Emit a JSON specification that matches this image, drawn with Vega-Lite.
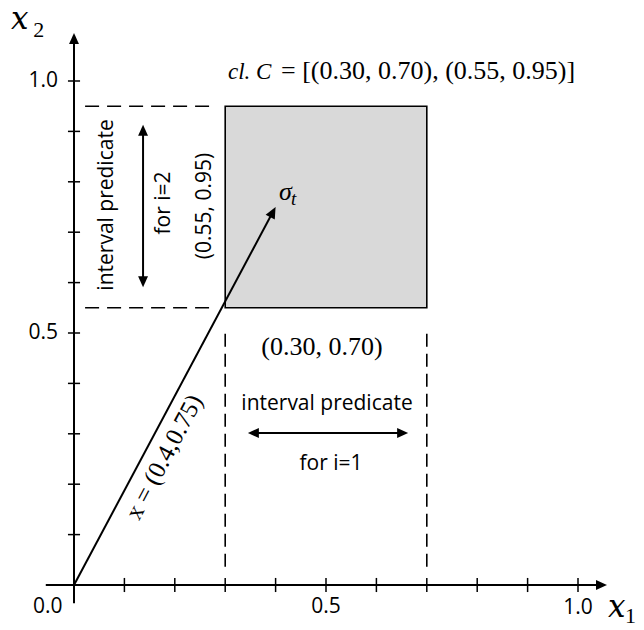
{
  "$schema": "https://vega.github.io/schema/vega-lite/v6.json",
  "width": 644,
  "height": 630,
  "autosize": "none",
  "padding": 0,
  "background": "white",
  "config": {"view": {"stroke": null}},
  "encoding": {
    "x": {"field": "x", "type": "quantitative", "axis": null,
          "scale": {"domain": [-0.14683, 1.13095], "nice": false, "zero": false}},
    "y": {"field": "y", "type": "quantitative", "axis": null,
          "scale": {"domain": [-0.08929, 1.16071], "nice": false, "zero": false}}
  },
  "layer": [
    {
      "description": "closed cell C",
      "data": {"values": [{"x": 0.30, "x2": 0.70, "y": 0.55, "y2": 0.95}]},
      "mark": {"type": "rect", "fill": "#d9d9d9", "stroke": "#000", "strokeWidth": 1.6},
      "encoding": {"x2": {"field": "x2"}, "y2": {"field": "y2"}}
    },
    {
      "description": "dashed guides for the x2 interval",
      "data": {"values": [
        {"x": 0.022, "x2": 0.268, "y": 0.95},
        {"x": 0.022, "x2": 0.268, "y": 0.55}
      ]},
      "mark": {"type": "rule", "color": "#000", "strokeWidth": 1.6, "strokeDash": [14, 8]},
      "encoding": {"x2": {"field": "x2"}}
    },
    {
      "description": "dashed guides for the x1 interval",
      "data": {"values": [
        {"x": 0.30, "y": 0.036, "y2": 0.50},
        {"x": 0.70, "y": 0.036, "y2": 0.50}
      ]},
      "mark": {"type": "rule", "color": "#000", "strokeWidth": 1.6, "strokeDash": [13, 7]},
      "encoding": {"y2": {"field": "y2"}}
    },
    {
      "description": "coordinate axes",
      "data": {"values": [
        {"x": -0.056, "x2": 1.045, "y": 0, "y2": 0},
        {"x": 0, "x2": 0, "y": -0.036, "y2": 1.08}
      ]},
      "mark": {"type": "rule", "color": "#000", "strokeWidth": 2},
      "encoding": {"x2": {"field": "x2"}, "y2": {"field": "y2"}}
    },
    {
      "description": "tick marks on both axes",
      "data": {"values": [
        {"x": 0.1, "x2": 0.1, "y": -0.014, "y2": 0.014},
        {"x": 0.2, "x2": 0.2, "y": -0.014, "y2": 0.014},
        {"x": 0.3, "x2": 0.3, "y": -0.014, "y2": 0.014},
        {"x": 0.4, "x2": 0.4, "y": -0.014, "y2": 0.014},
        {"x": 0.5, "x2": 0.5, "y": -0.014, "y2": 0.014},
        {"x": 0.6, "x2": 0.6, "y": -0.014, "y2": 0.014},
        {"x": 0.7, "x2": 0.7, "y": -0.014, "y2": 0.014},
        {"x": 0.8, "x2": 0.8, "y": -0.014, "y2": 0.014},
        {"x": 0.9, "x2": 0.9, "y": -0.014, "y2": 0.014},
        {"x": 1.0, "x2": 1.0, "y": -0.014, "y2": 0.014},
        {"x": -0.012, "x2": 0.012, "y": 0.1, "y2": 0.1},
        {"x": -0.012, "x2": 0.012, "y": 0.2, "y2": 0.2},
        {"x": -0.012, "x2": 0.012, "y": 0.3, "y2": 0.3},
        {"x": -0.012, "x2": 0.012, "y": 0.4, "y2": 0.4},
        {"x": -0.012, "x2": 0.012, "y": 0.5, "y2": 0.5},
        {"x": -0.012, "x2": 0.012, "y": 0.6, "y2": 0.6},
        {"x": -0.012, "x2": 0.012, "y": 0.7, "y2": 0.7},
        {"x": -0.012, "x2": 0.012, "y": 0.8, "y2": 0.8},
        {"x": -0.012, "x2": 0.012, "y": 0.9, "y2": 0.9},
        {"x": -0.012, "x2": 0.012, "y": 1.0, "y2": 1.0}
      ]},
      "mark": {"type": "rule", "color": "#000", "strokeWidth": 1.5},
      "encoding": {"x2": {"field": "x2"}, "y2": {"field": "y2"}}
    },
    {
      "description": "shafts: the vector x and the two interval arrows",
      "data": {"values": [
        {"x": 0, "y": 0, "x2": 0.395, "y2": 0.741},
        {"x": 0.355, "x2": 0.653, "y": 0.3016, "y2": 0.3016},
        {"x": 0.137, "x2": 0.137, "y": 0.601, "y2": 0.903}
      ]},
      "mark": {"type": "rule", "color": "#000", "strokeWidth": 2},
      "encoding": {"x2": {"field": "x2"}, "y2": {"field": "y2"}}
    },
    {
      "description": "heads pointing right",
      "data": {"values": [{"x": 1.0575, "y": 0}, {"x": 0.663, "y": 0.3016}]},
      "mark": {"type": "point", "shape": "M0,0L-1,-0.45L-1,0.45Z", "size": 484, "filled": true, "fill": "#000", "strokeWidth": 0, "opacity": 1, "angle": 0}
    },
    {
      "description": "heads pointing left",
      "data": {"values": [{"x": 0.345, "y": 0.3016}]},
      "mark": {"type": "point", "shape": "M0,0L-1,-0.45L-1,0.45Z", "size": 484, "filled": true, "fill": "#000", "strokeWidth": 0, "opacity": 1, "angle": 180}
    },
    {
      "description": "heads pointing up",
      "data": {"values": [{"x": 0, "y": 1.095}, {"x": 0.137, "y": 0.913}]},
      "mark": {"type": "point", "shape": "M0,0L-1,-0.45L-1,0.45Z", "size": 484, "filled": true, "fill": "#000", "strokeWidth": 0, "opacity": 1, "angle": -90}
    },
    {
      "description": "heads pointing down",
      "data": {"values": [{"x": 0.137, "y": 0.591}]},
      "mark": {"type": "point", "shape": "M0,0L-1,-0.45L-1,0.45Z", "size": 484, "filled": true, "fill": "#000", "strokeWidth": 0, "opacity": 1, "angle": 90}
    },
    {
      "description": "head of the vector x",
      "data": {"values": [{"x": 0.4, "y": 0.75}]},
      "mark": {"type": "point", "shape": "M0,0L-1,-0.45L-1,0.45Z", "size": 529, "filled": true, "fill": "#000", "strokeWidth": 0, "opacity": 1, "angle": -61.9}
    },
    {
      "description": "x1 tick labels",
      "data": {"values": [
        {"x": -0.052, "y": -0.043, "label": "0.0"},
        {"x": 0.5, "y": -0.043, "label": "0.5"},
        {"x": 1.0, "y": -0.045, "label": "1.0"}
      ]},
      "mark": {"type": "text", "font": "Open Sans", "fontSize": 21, "color": "#000", "align": "center", "baseline": "middle"},
      "encoding": {"text": {"field": "label"}}
    },
    {
      "description": "x2 tick labels",
      "data": {"values": [
        {"x": -0.0317, "y": 1.0, "label": "1.0"},
        {"x": -0.0317, "y": 0.5, "label": "0.5"}
      ]},
      "mark": {"type": "text", "font": "Open Sans", "fontSize": 21, "color": "#000", "align": "right", "baseline": "middle"},
      "encoding": {"text": {"field": "label"}}
    },
    {
      "description": "axis variable names",
      "data": {"values": [
        {"x": -0.125, "y": 1.103, "label": "x"},
        {"x": 1.0595, "y": -0.0635, "label": "x"}
      ]},
      "mark": {"type": "text", "font": "DejaVu Serif", "fontStyle": "italic", "fontSize": 31, "color": "#000", "align": "left", "baseline": "alphabetic"},
      "encoding": {"text": {"field": "label"}}
    },
    {
      "description": "axis variable subscripts",
      "data": {"values": [
        {"x": -0.081, "y": 1.087, "label": "2"},
        {"x": 1.0932, "y": -0.0754, "label": "1"}
      ]},
      "mark": {"type": "text", "font": "Liberation Serif", "fontSize": 22, "color": "#000", "align": "left", "baseline": "alphabetic"},
      "encoding": {"text": {"field": "label"}}
    },
    {
      "description": "italic math: cell name",
      "data": {"values": [{"x": 0.3056, "y": 1.004, "label": "cl. C"}]},
      "mark": {"type": "text", "font": "Liberation Serif", "fontStyle": "italic", "fontSize": 23, "color": "#000", "align": "left", "baseline": "alphabetic"},
      "encoding": {"text": {"field": "label"}}
    },
    {
      "description": "italic math: sigma",
      "data": {"values": [{"x": 0.4067, "y": 0.7639, "label": "σ"}]},
      "mark": {"type": "text", "font": "Liberation Serif", "fontStyle": "italic", "fontSize": 26, "color": "#000", "align": "left", "baseline": "alphabetic"},
      "encoding": {"text": {"field": "label"}}
    },
    {
      "description": "sigma subscript",
      "data": {"values": [{"x": 0.4306, "y": 0.754, "label": "t"}]},
      "mark": {"type": "text", "font": "Liberation Serif", "fontStyle": "italic", "fontSize": 19, "color": "#000", "align": "left", "baseline": "alphabetic"},
      "encoding": {"text": {"field": "label"}}
    },
    {
      "description": "cell bounds",
      "data": {"values": [{"x": 0.4107, "y": 1.004, "label": "=  [(0.30, 0.70), (0.55, 0.95)]"}]},
      "mark": {"type": "text", "font": "Liberation Serif", "fontSize": 26, "color": "#000", "align": "left", "baseline": "alphabetic"},
      "encoding": {"text": {"field": "label"}}
    },
    {
      "description": "x1 interval",
      "data": {"values": [{"x": 0.4921, "y": 0.4563, "label": "(0.30, 0.70)"}]},
      "mark": {"type": "text", "font": "Liberation Serif", "fontSize": 26, "color": "#000", "align": "center", "baseline": "alphabetic"},
      "encoding": {"text": {"field": "label"}}
    },
    {
      "description": "x1 interval predicate notes",
      "data": {"values": [
        {"x": 0.502, "y": 0.3472, "label": "interval predicate"},
        {"x": 0.5099, "y": 0.2282, "label": "for i=1"}
      ]},
      "mark": {"type": "text", "font": "Open Sans", "fontSize": 21, "color": "#000", "align": "center", "baseline": "alphabetic"},
      "encoding": {"text": {"field": "label"}}
    },
    {
      "description": "x2 interval predicate notes",
      "data": {"values": [
        {"x": 0.0774, "y": 0.754, "label": "interval predicate"},
        {"x": 0.1905, "y": 0.7579, "label": "for i=2"},
        {"x": 0.2718, "y": 0.752, "label": "(0.55, 0.95)"}
      ]},
      "mark": {"type": "text", "font": "Open Sans", "fontSize": 21, "color": "#000", "align": "center", "baseline": "alphabetic", "angle": -90},
      "encoding": {"text": {"field": "label"}}
    },
    {
      "description": "vector label",
      "data": {"values": [{"x": 0.1786, "y": 0.254, "label": "x  =  (0.4,0.75)"}]},
      "mark": {"type": "text", "font": "Liberation Serif", "fontSize": 25, "color": "#000", "align": "center", "baseline": "middle", "angle": -62},
      "encoding": {"text": {"field": "label"}}
    }
  ]
}
